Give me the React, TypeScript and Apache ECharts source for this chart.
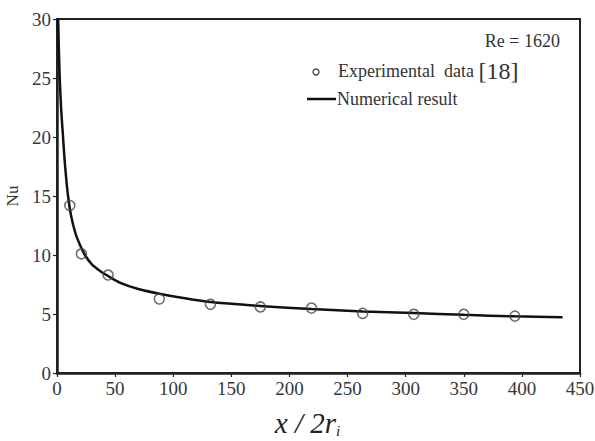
import React, { useEffect, useRef } from "react";
import * as echarts from "echarts";

// Experimental data [18]
const expX = [11, 21, 44, 88, 132, 175, 219, 263, 307, 350, 394];
const expNu = [14.2, 10.1, 8.3, 6.27, 5.82, 5.6, 5.5, 5.05, 4.97, 4.97, 4.82];

// Numerical result
const numX = [1, 1.5, 2.3, 3.5, 5.2, 7, 9.5, 12, 16, 20, 24, 30, 37, 44, 55, 70, 88, 110, 130, 175, 219, 263, 307, 350, 394, 435];
const numNu = [30, 27.8, 25.1, 22.5, 20, 17.5, 15.0, 13.4, 11.8, 10.8, 10.0, 9.2, 8.65, 8.22, 7.62, 7.12, 6.72, 6.33, 6.04, 5.68, 5.42, 5.22, 5.08, 4.93, 4.8, 4.72];

const xTicks = [0, 50, 100, 150, 200, 250, 300, 350, 400, 450];
const yTicks = [0, 5, 10, 15, 20, 25, 30];

const FONT = "Liberation Serif";
const INK = "#222";

export default function App() {
  const ref = useRef<HTMLDivElement>(null);
  useEffect(() => {
    if (!ref.current) return;
    const chart = echarts.init(ref.current, null, { renderer: "svg" });
    chart.setOption({
      animation: false,
      backgroundColor: "#fff",
      textStyle: { fontFamily: FONT },
      grid: {
        left: 57,
        right: 15,
        top: 19,
        bottom: 68,
        show: true,
        borderColor: INK,
        borderWidth: 2,
        backgroundColor: "transparent",
        containLabel: false,
        outerBoundsMode: "none",
      },
      xAxis: {
        type: "value",
        min: xTicks[0],
        max: xTicks[xTicks.length - 1],
        interval: 50,
        name: "{v|x / 2r}{s|i}",
        nameLocation: "middle",
        nameGap: 34,
        nameTextStyle: {
          fontFamily: FONT,
          padding: [0, 22, 0, 0],
          rich: {
            v: { fontFamily: FONT, fontStyle: "italic", fontSize: 29, color: "#222" },
            s: { fontFamily: FONT, fontStyle: "italic", fontSize: 15, color: "#222", padding: [16, 0, 0, 0] },
          },
        },
        axisLine: { lineStyle: { color: INK, width: 2.5 } },
        axisTick: { show: true, length: 4, lineStyle: { color: INK, width: 1.2 } },
        axisLabel: { fontFamily: FONT, fontSize: 19, color: "#383838", margin: 6 },
        splitLine: { show: false },
      },
      yAxis: {
        type: "value",
        min: yTicks[0],
        max: yTicks[yTicks.length - 1],
        interval: 5,
        name: "Nu",
        nameLocation: "middle",
        nameRotate: 90,
        nameGap: 34,
        nameTextStyle: { fontFamily: FONT, fontSize: 17, color: "#333" },
        axisLine: { lineStyle: { color: INK, width: 2.5 } },
        axisTick: { show: true, length: 4, lineStyle: { color: INK, width: 1.2 } },
        axisLabel: { fontFamily: FONT, fontSize: 19, color: "#383838", margin: 6 },
        splitLine: { show: false },
      },
      series: [
        {
          name: "Numerical result",
          type: "line",
          data: numX.map((x, i) => [x, numNu[i]]),
          showSymbol: false,
          smooth: 0.3,
          lineStyle: { color: "#111", width: 2.5 },
          z: 2,
        },
        {
          name: "Experimental data [18]",
          type: "scatter",
          data: expX.map((x, i) => [x, expNu[i]]),
          symbol: "circle",
          symbolSize: 10,
          itemStyle: { color: "transparent", borderColor: "#444", borderWidth: 1.5 },
          z: 3,
        },
      ],
      graphic: [
        {
          type: "text",
          x: 560,
          y: 41,
          style: {
            text: "Re = 1620",
            fontFamily: FONT,
            fontSize: 18,
            fill: "#333",
            align: "right",
            verticalAlign: "middle",
          },
        },
        {
          type: "circle",
          shape: { cx: 316, cy: 72, r: 3 },
          style: { fill: "transparent", stroke: "#444", lineWidth: 1.3 },
        },
        {
          type: "text",
          x: 338,
          y: 71,
          style: {
            text: "{a|Experimental  data }{b|[18]}",
            verticalAlign: "middle",
            rich: {
              a: { fontFamily: FONT, fontSize: 18, fill: "#333" },
              b: { fontFamily: FONT, fontSize: 24, fill: "#333" },
            },
          },
        },
        {
          type: "line",
          shape: { x1: 307, y1: 99, x2: 336, y2: 99 },
          style: { stroke: "#111", lineWidth: 2.5 },
        },
        {
          type: "text",
          x: 337,
          y: 99,
          style: {
            text: "Numerical result",
            fontFamily: FONT,
            fontSize: 18,
            fill: "#333",
            verticalAlign: "middle",
          },
        },
      ],
    });
    return () => chart.dispose();
  }, []);
  return (
    <div
      ref={ref}
      style={{ position: "fixed", left: 0, top: 0, width: 595, height: 441, background: "#fff" }}
    />
  );
}
